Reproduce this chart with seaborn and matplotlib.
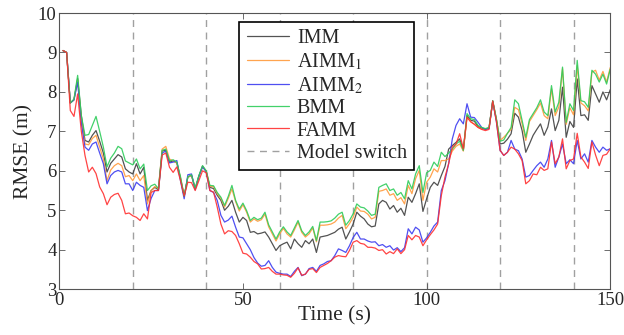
import numpy as np
import pandas as pd
import seaborn as sns
import matplotlib.pyplot as plt

time = np.arange(1, 151)

imm = [9.05, 9.00, 7.72, 7.80, 8.34, 7.40, 6.77, 6.73, 6.90, 7.02,
       6.75, 6.45, 5.97, 6.19, 6.30, 6.41, 6.35, 6.05, 5.97, 5.92,
       6.18, 5.92, 6.09, 5.25, 5.50, 5.58, 5.52, 6.50, 6.52, 6.22,
       6.25, 6.20, 5.80, 5.36, 5.84, 5.88, 5.54, 5.86, 6.12, 5.98,
       5.58, 5.55, 5.38, 5.25, 5.00, 5.10, 5.25, 4.95, 4.70, 4.82,
       4.74, 4.44, 4.46, 4.40, 4.42, 4.45, 4.32, 4.15, 3.98, 4.10,
       4.15, 4.19, 4.02, 4.27, 4.15, 4.06, 4.23, 4.15, 4.27, 3.93,
       4.32, 4.34, 4.36, 4.40, 4.44, 4.52, 4.57, 4.27, 4.45, 4.65,
       4.95, 4.85, 4.78, 4.65, 4.58, 4.60, 5.16, 5.25, 5.20, 5.03,
       5.12, 4.95, 5.05, 4.87, 5.33, 5.20, 5.42, 5.67, 4.97, 5.29,
       5.58, 5.71, 5.63, 5.88, 6.11, 6.55, 6.64, 6.72, 6.81, 6.52,
       7.40, 7.28, 7.26, 7.12, 7.08, 7.05, 7.08, 7.77, 7.30, 6.68,
       6.70, 6.80, 6.94, 7.46, 7.36, 7.02, 6.47, 6.68, 6.90, 7.05,
       7.19, 6.90, 7.11, 7.57, 7.02, 7.28, 8.12, 6.85, 7.25, 7.10,
       8.33, 7.40, 7.42, 7.28, 8.16, 7.95, 7.74, 8.00, 7.80, 8.06]

aimm1 = [9.05, 9.00, 7.72, 7.80, 8.30, 7.30, 6.68, 6.66, 6.82, 6.90,
         6.60, 6.30, 5.75, 6.02, 6.13, 6.19, 6.13, 5.85, 5.88, 5.75,
         5.92, 5.75, 5.88, 5.16, 5.50, 5.60, 5.55, 6.55, 6.62, 6.30,
         6.25, 6.20, 5.82, 5.36, 5.84, 5.88, 5.55, 5.86, 6.10, 6.00,
         5.60, 5.60, 5.42, 5.30, 5.08, 5.30, 5.54, 5.22, 4.98, 5.14,
         4.95, 4.70, 4.78, 4.72, 4.76, 4.90, 4.58, 4.40, 4.22, 4.40,
         4.54, 4.40, 4.32, 4.50, 4.70, 4.44, 4.32, 4.40, 4.55, 4.20,
         4.62, 4.62, 4.63, 4.65, 4.70, 4.80, 4.87, 4.53, 4.66, 4.82,
         5.08, 4.98, 4.97, 4.90, 4.78, 4.82, 5.48, 5.50, 5.54, 5.38,
         5.42, 5.25, 5.32, 5.16, 5.63, 5.42, 5.80, 6.01, 5.25, 5.71,
         5.84, 6.05, 5.97, 6.26, 6.26, 6.30, 6.50, 6.62, 6.68, 6.50,
         7.36, 7.25, 7.18, 7.10, 7.06, 7.05, 7.10, 7.76, 7.30, 6.77,
         6.85, 6.95, 7.05, 7.61, 7.55, 7.19, 6.77, 7.25, 7.40, 7.55,
         7.72, 7.40, 7.32, 8.08, 7.40, 7.62, 8.59, 7.18, 7.60, 7.42,
         8.67, 7.72, 7.65, 7.52, 8.50, 8.55, 8.30, 8.52, 8.25, 8.62]

aimm2 = [9.05, 9.00, 7.72, 7.80, 8.25, 7.20, 6.60, 6.52, 6.68, 6.73,
         6.45, 6.18, 5.67, 5.88, 5.97, 6.01, 5.97, 5.67, 5.67, 5.50,
         5.71, 5.63, 5.58, 4.99, 5.30, 5.50, 5.50, 6.45, 6.50, 6.20,
         6.22, 6.26, 5.75, 5.29, 5.90, 5.92, 5.52, 5.86, 6.10, 5.98,
         5.50, 5.45, 5.25, 4.87, 4.70, 4.75, 4.85, 4.57, 4.32, 4.30,
         4.15, 4.00, 3.80, 3.66, 3.58, 3.60, 3.72, 3.55, 3.43, 3.40,
         3.38, 3.38, 3.32, 3.45, 3.55, 3.34, 3.38, 3.52, 3.55, 3.45,
         3.60, 3.64, 3.70, 3.72, 3.85, 4.02, 3.98, 3.93, 4.10, 4.31,
         4.44, 4.27, 4.27, 4.22, 4.19, 4.20, 4.10, 4.13, 4.06, 4.10,
         3.99, 4.05, 3.95, 4.05, 4.53, 4.40, 4.57, 4.50, 4.19, 4.30,
         4.44, 4.60, 4.70, 5.50, 5.75, 6.18, 6.81, 7.15, 7.32, 7.19,
         7.70, 7.36, 7.35, 7.23, 7.10, 7.05, 7.08, 7.76, 7.25, 6.52,
         6.39, 6.47, 6.77, 6.55, 6.51, 6.30, 5.84, 5.88, 6.01, 6.13,
         6.22, 6.09, 6.30, 6.77, 6.09, 6.35, 6.68, 6.18, 6.28, 6.18,
         6.77, 6.30, 6.43, 6.22, 6.77, 6.60, 6.47, 6.60, 6.52, 6.56]

bmm = [9.05, 9.00, 7.72, 7.82, 8.42, 7.40, 6.90, 6.92, 7.15, 7.38,
       7.00, 6.60, 6.10, 6.32, 6.45, 6.62, 6.56, 6.25, 6.20, 6.15,
       6.30, 6.05, 6.17, 5.50, 5.62, 5.66, 5.55, 6.52, 6.55, 6.25,
       6.28, 6.22, 5.85, 5.36, 5.85, 5.90, 5.56, 5.88, 6.13, 6.00,
       5.63, 5.62, 5.45, 5.33, 5.12, 5.35, 5.63, 5.25, 5.03, 5.18,
       4.99, 4.74, 4.82, 4.76, 4.80, 4.95, 4.63, 4.45, 4.27, 4.45,
       4.58, 4.45, 4.36, 4.55, 4.74, 4.48, 4.36, 4.45, 4.59, 4.23,
       4.70, 4.70, 4.71, 4.73, 4.80, 4.90, 4.95, 4.62, 4.74, 4.91,
       5.16, 5.08, 5.06, 4.98, 4.87, 4.90, 5.58, 5.63, 5.67, 5.50,
       5.54, 5.38, 5.45, 5.29, 5.75, 5.54, 5.92, 6.13, 5.45, 5.95,
       6.01, 6.22, 6.11, 6.47, 6.36, 6.45, 6.55, 6.68, 6.75, 6.52,
       7.45, 7.32, 7.30, 7.15, 7.10, 7.07, 7.10, 7.78, 7.32, 6.75,
       6.78, 6.95, 7.10, 7.80, 7.70, 7.28, 6.85, 7.30, 7.45, 7.60,
       7.80, 7.49, 7.40, 8.16, 7.49, 7.74, 8.63, 7.23, 7.70, 7.53,
       8.80, 7.78, 7.75, 7.61, 8.55, 8.45, 8.25, 8.45, 8.20, 8.58]

famm = [9.05, 9.00, 7.53, 7.38, 7.95, 7.00, 6.39, 5.97, 6.09, 5.93,
        5.59, 5.42, 5.14, 5.33, 5.40, 5.43, 5.25, 4.91, 4.93, 4.86,
        4.82, 4.74, 4.91, 4.78, 5.45, 5.50, 5.50, 6.40, 6.45, 6.09,
        5.96, 6.10, 5.75, 5.36, 5.71, 5.70, 5.50, 5.75, 6.00, 5.95,
        5.50, 5.46, 5.08, 4.65, 4.40, 4.48, 4.46, 4.36, 4.15, 3.91,
        3.89, 3.81, 3.70, 3.64, 3.51, 3.52, 3.55, 3.45, 3.38, 3.38,
        3.36, 3.35, 3.30, 3.40, 3.54, 3.35, 3.38, 3.50, 3.52, 3.42,
        3.55, 3.60, 3.65, 3.72, 3.81, 3.85, 3.83, 3.82, 3.98, 4.19,
        4.23, 4.16, 4.14, 4.06, 4.06, 4.04, 3.98, 4.00, 3.89, 3.95,
        3.90, 4.02, 3.90, 4.00, 4.36, 4.25, 4.36, 4.32, 4.10, 4.25,
        4.38, 4.50, 4.65, 5.37, 5.84, 6.18, 6.60, 6.68, 6.94, 6.56,
        7.36, 7.24, 7.18, 7.10, 7.05, 7.02, 7.05, 7.77, 7.25, 6.52,
        6.39, 6.47, 6.60, 6.55, 6.43, 6.26, 5.67, 5.75, 5.92, 5.90,
        6.09, 6.01, 6.05, 6.73, 6.18, 6.35, 6.81, 6.05, 6.26, 6.30,
        6.95, 6.35, 6.22, 6.06, 6.73, 6.40, 6.13, 6.39, 6.42, 6.56]

switch_times = [20, 40, 60, 80, 100, 120, 140]

methods = ['IMM', 'AIMM$_1$', 'AIMM$_2$', 'BMM', 'FAMM']
colors = ['#404040', '#ff9a3c', '#3c3cf0', '#2ecc5a', '#ff3030']

df = pd.DataFrame({
    'Time': np.tile(time, 5),
    'RMSE': np.concatenate([imm, aimm1, aimm2, bmm, famm]),
    'Method': np.repeat(methods, len(time)),
})

sns.set_style('ticks')
plt.rcParams['font.family'] = ['Liberation Serif', 'DejaVu Serif']
plt.rcParams['mathtext.fontset'] = 'stix'

fig, ax = plt.subplots(figsize=(6.24, 3.35), dpi=100)
fig.subplots_adjust(left=0.095, right=0.978, top=0.961, bottom=0.137)

sns.lineplot(data=df, x='Time', y='RMSE', hue='Method', palette=colors,
             hue_order=methods, linewidth=0.9, alpha=0.9, ax=ax)

for i, s in enumerate(switch_times):
    ax.axvline(s, color='#a0a0a0', linestyle=(0, (5, 4)), linewidth=1.0,
               label='Model switch' if i == 0 else None, zorder=0)

ax.set_xlim(0, 150)
ax.set_ylim(3, 10)
ax.set_xticks([0, 50, 100, 150])
ax.set_yticks(range(3, 11))
ax.set_xlabel('Time (s)', fontsize=15.5, labelpad=-2)
ax.set_ylabel('RMSE (m)', fontsize=15.5, labelpad=3)
ax.tick_params(direction='in', top=True, right=True, labelsize=13.5,
               length=4, width=0.6, color='#555555', pad=2)
for sp in ax.spines.values():
    sp.set_color('#555555')
    sp.set_linewidth(0.8)

leg = ax.legend(loc='upper left', bbox_to_anchor=(0.327, 0.968), fontsize=14.5,
                frameon=True, fancybox=False, framealpha=1, edgecolor='black',
                handlelength=2.1, labelspacing=0.16, borderpad=0.35,
                handletextpad=0.4, borderaxespad=0)
leg.get_frame().set_linewidth(1.2)

fig.savefig('out.png', dpi=100)
